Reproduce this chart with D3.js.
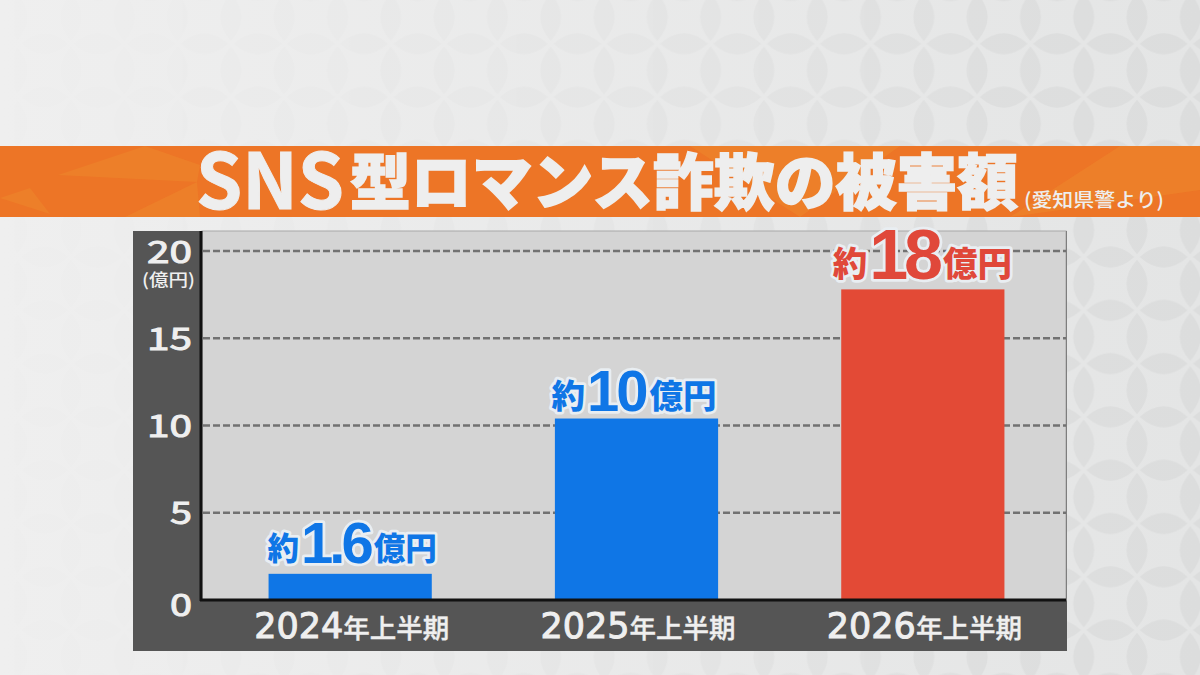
<!DOCTYPE html>
<html>
<head>
<meta charset="utf-8">
<script src="https://cdn.jsdelivr.net/npm/d3@7"></script>
<style>
html, body { margin: 0; padding: 0; background: #ededed; overflow: hidden; }
svg { display: block; }
text { font-family: "Noto Sans CJK JP", sans-serif; }
</style>
</head>
<body>
<div id="maincontainer"></div>
<script>
var periods = ["2024年上半期", "2025年上半期", "2026年上半期"];
var barValues = [1.5, 10.4, 17.8];
var barColors = ["#0f76e6", "#0f76e6", "#e34a36"];
var labelColors = ["#0f76e6", "#0f76e6", "#e0483a"];
var labelPrefix = ["約", "約", "約"];
var labelNumbers = ["1.6", "10", "18"];
var labelSuffix = ["億円", "億円", "億円"];
var yTicks = [0, 5, 10, 15, 20];

var width = 1200, height = 675;

var svg = d3.select("#maincontainer")
    .append("svg")
    .attr("width", width)
    .attr("height", height);

var defs = svg.append("defs");

var bg = defs.append("linearGradient")
    .attr("id", "bgGrad")
    .attr("x1", 0).attr("y1", 0).attr("x2", 1).attr("y2", 0);
bg.append("stop").attr("offset", "0%").attr("stop-color", "#efefef");
bg.append("stop").attr("offset", "100%").attr("stop-color", "#e4e5e5");

// shippo background tile, lenses sit on the edges of a square grid
var tile = 53.3;
var half = tile / 2;
var lensLen = 24, lensWide = 10.5;
function lens(cx, cy, horizontal) {
    var a = horizontal ? lensLen : lensWide, b = horizontal ? lensWide : lensLen;
    return horizontal
        ? "M" + (cx - a) + "," + cy + " Q" + cx + "," + (cy - 2 * b) + " " + (cx + a) + "," + cy + " Q" + cx + "," + (cy + 2 * b) + " " + (cx - a) + "," + cy + "Z"
        : "M" + cx + "," + (cy - b) + " Q" + (cx + 2 * a) + "," + cy + " " + cx + "," + (cy + b) + " Q" + (cx - 2 * a) + "," + cy + " " + cx + "," + (cy - b) + "Z";
}
var pat = defs.append("pattern")
    .attr("id", "shippo")
    .attr("patternUnits", "userSpaceOnUse")
    .attr("x", 17.7).attr("y", 43.8)
    .attr("width", tile).attr("height", tile);
[lens(half, 0, true), lens(half, tile, true), lens(0, half, false), lens(tile, half, false)].forEach(function(p) {
    pat.append("path").attr("d", p).attr("fill", "#000").attr("fill-opacity", 0.03);
});

var fade = defs.append("linearGradient")
    .attr("id", "fade")
    .attr("x1", 0).attr("y1", 0).attr("x2", 1).attr("y2", 0);
fade.append("stop").attr("offset", "0%").attr("stop-color", "#fff").attr("stop-opacity", 0.05);
fade.append("stop").attr("offset", "50%").attr("stop-color", "#fff").attr("stop-opacity", 0.5);
fade.append("stop").attr("offset", "85%").attr("stop-color", "#fff").attr("stop-opacity", 1);
var mask = defs.append("mask").attr("id", "patMask");
mask.append("rect").attr("width", width).attr("height", height).attr("fill", "url(#fade)");

svg.append("rect").attr("width", width).attr("height", height).attr("fill", "url(#bgGrad)");
svg.append("rect").attr("width", width).attr("height", height)
    .attr("fill", "url(#shippo)").attr("mask", "url(#patMask)");

// banner
var banner = svg.append("g");
banner.append("rect")
    .attr("x", 0).attr("y", 146).attr("width", width).attr("height", 71)
    .attr("fill", "#ed7526");
var shards = [
    "M58,175 L145,146 L200,165 L197,182 Z",
    "M0,198 L30,188 L50,214 Z",
    "M125,217 L197,182 L200,217 Z",
    "M1010,217 L1120,146 L1200,146 L1200,190 Z",
    "M690,146 L900,146 L800,217 Z"
];
banner.selectAll("path").data(shards).enter().append("path")
    .attr("d", function(d) { return d; })
    .attr("fill", "#ef8c2e")
    .attr("fill-opacity", 0.42);

banner.append("text")
    .attr("x", 196).attr("y", 209)
    .attr("font-family", "Liberation Sans")
    .attr("font-size", 77)
    .attr("font-weight", 700)
    .attr("fill", "#eeeeee")
    .attr("stroke", "#eeeeee").attr("stroke-width", 1)
    .attr("textLength", 148)
    .attr("lengthAdjust", "spacingAndGlyphs")
    .text("SNS");

banner.append("text")
    .attr("x", 350).attr("y", 205)
    .attr("font-size", 61)
    .attr("font-weight", 900)
    .attr("fill", "#eeeeee")
    .attr("stroke", "#eeeeee").attr("stroke-width", 1.5)
    .attr("textLength", 668)
    .attr("lengthAdjust", "spacingAndGlyphs")
    .text("型ロマンス詐欺の被害額");

banner.append("text")
    .attr("x", 1024).attr("y", 207)
    .attr("font-size", 19.5)
    .attr("font-weight", 500)
    .attr("fill", "#eeeeee")
    .attr("textLength", 140)
    .attr("lengthAdjust", "spacingAndGlyphs")
    .text("(愛知県警より)");

// chart panel
var panel = { left: 133, top: 231, right: 1067, bottom: 651 };
var plot = { left: 202, top: 231, right: 1066, bottom: 600 };

svg.append("rect")
    .attr("x", panel.left).attr("y", panel.top)
    .attr("width", panel.right - panel.left).attr("height", panel.bottom - panel.top)
    .attr("fill", "#555555");
svg.append("rect")
    .attr("x", plot.left).attr("y", plot.top)
    .attr("width", plot.right - plot.left).attr("height", plot.bottom - plot.top)
    .attr("fill", "#d4d4d4")
    .attr("stroke", "#a8a8a8").attr("stroke-width", 1);

var x = d3.scaleBand()
    .domain(periods)
    .range([207, 1066])
    .paddingInner(0.43)
    .paddingOuter(0.215);

var y = d3.scaleLinear()
    .domain([0, 20])
    .range([600, 251]);

// gridlines
svg.append("g").selectAll("line")
    .data(yTicks.filter(function(d) { return d > 0; }))
    .enter().append("line")
    .attr("x1", plot.left + 1).attr("x2", plot.right)
    .attr("y1", function(d) { return y(d); })
    .attr("y2", function(d) { return y(d); })
    .attr("stroke", "#727272")
    .attr("stroke-width", 2.4)
    .attr("stroke-dasharray", "7 3");

// bars
svg.append("g").selectAll("rect")
    .data(barValues)
    .enter().append("rect")
    .attr("x", function(d, i) { return x(periods[i]); })
    .attr("y", function(d) { return y(d); })
    .attr("width", x.bandwidth())
    .attr("height", function(d) { return y(0) - y(d); })
    .attr("fill", function(d, i) { return barColors[i]; });

// axis lines
svg.append("line")
    .attr("x1", plot.left - 1).attr("x2", plot.left - 1)
    .attr("y1", plot.top).attr("y2", plot.bottom + 1)
    .attr("stroke", "#111").attr("stroke-width", 3);
svg.append("line")
    .attr("x1", plot.left - 2).attr("x2", plot.right)
    .attr("y1", plot.bottom).attr("y2", plot.bottom)
    .attr("stroke", "#111").attr("stroke-width", 3);

// y axis labels
var yAxis = d3.axisLeft(y).tickValues(yTicks).tickSize(0).tickPadding(0);
var yg = svg.append("g")
    .attr("transform", "translate(192,0)")
    .call(yAxis);
yg.select(".domain").remove();
yg.selectAll("text")
    .attr("font-family", "DejaVu Sans")
    .attr("font-size", 31)
    .attr("fill", "#efefef")
    .attr("stroke", "#efefef").attr("stroke-width", 1)
    .attr("textLength", function(d) { return d >= 10 ? 45 : 22; })
    .attr("lengthAdjust", "spacingAndGlyphs")
    .attr("dy", function(d) { return d == 0 ? "0.49em" : "0.36em"; });

svg.append("text")
    .attr("x", 142).attr("y", 286)
    .attr("font-size", 17)
    .attr("font-weight", 500)
    .attr("fill", "#efefef")
    .attr("textLength", 53)
    .attr("lengthAdjust", "spacingAndGlyphs")
    .text("(億円)");

// x axis labels, digits and kanji set apart
var xAxis = d3.axisBottom(x).tickSize(0).tickPadding(0);
var xg = svg.append("g")
    .attr("transform", "translate(1.5,638)")
    .call(xAxis);
xg.select(".domain").remove();
xg.selectAll("text")
    .attr("y", 0).attr("dy", 0)
    .attr("fill", "#efefef")
    .each(function(d) {
        var t = d3.select(this).text("");
        t.append("tspan")
            .attr("font-family", "DejaVu Sans")
            .attr("font-size", 35)
            .attr("stroke", "#efefef").attr("stroke-width", 1)
            .text(d.slice(0, 4));
        t.append("tspan")
            .attr("font-size", 26.5)
            .attr("font-weight", 500)
            .attr("stroke", "#efefef").attr("stroke-width", 0.4)
            .text(d.slice(4));
    });

// value labels
var labelShift = [2, -2.5, -0.5];
var labelGap = [11, 7.5, 10];
var labelKanji = [31.5, 33.5, 34.5];
var labels = svg.append("g").selectAll("text")
    .data(barValues)
    .enter().append("text")
    .attr("x", function(d, i) { return x(periods[i]) + x.bandwidth() / 2 + labelShift[i]; })
    .attr("y", function(d, i) { return y(d) - labelGap[i]; })
    .attr("text-anchor", "middle")
    .attr("font-weight", 900)
    .attr("fill", function(d, i) { return labelColors[i]; })
    .attr("stroke", "#e9eef2")
    .attr("stroke-width", 5.5)
    .attr("stroke-linejoin", "round")
    .attr("paint-order", "stroke");

labels.append("tspan")
    .attr("font-size", function(d, i) { return labelKanji[i]; })
    .attr("dy", -3)
    .text(function(d, i) { return labelPrefix[i]; });
labels.append("tspan")
    .attr("font-family", "Liberation Sans")
    .attr("font-weight", 700)
    .attr("dy", 3)
    .attr("dx", 2)
    .attr("letter-spacing", function(d, i) { return i == 1 ? -3 : -4; })
    .attr("font-size", function(d, i) { return i == 2 ? 70 : 58; })
    .text(function(d, i) { return labelNumbers[i]; });
labels.append("tspan")
    .attr("font-size", function(d, i) { return labelKanji[i]; })
    .attr("dy", -3)
    .attr("dx", 4)
    .text(function(d, i) { return labelSuffix[i]; });
</script>
</body>
</html>
